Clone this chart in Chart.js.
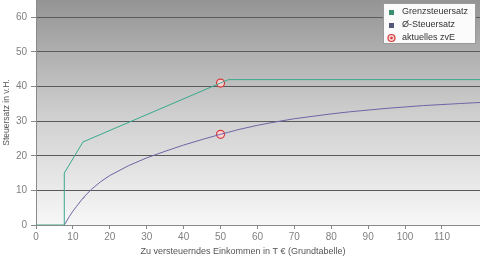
<!DOCTYPE html>
<html>
<head>
<meta charset="utf-8">
<script src="https://cdn.jsdelivr.net/npm/chart.js@4.4.1/dist/chart.umd.min.js"></script>
<style>
  html, body { margin: 0; padding: 0; background: #ffffff; }
  #wrap { width: 480px; height: 259px; }
</style>
</head>
<body>
<div id="wrap"><canvas id="taxChart" width="480" height="259"></canvas></div>
<script>
// Grenzsteuersatz (marginal rate), income in T€ -> rate in %
const marginalIncome = [0, 7.664, 7.664, 12.739, 52.151, 120.3];
const marginalRate = [0, 0, 15, 24, 42, 42];

// Durchschnittssteuersatz (average rate)
const averageIncome = [7.664, 8, 9, 10, 11, 12.74, 13, 15, 17.5, 20, 25, 30, 35, 40, 45, 50, 52.15, 55, 60, 65, 70, 75, 80, 85, 90, 95, 100, 105, 110, 115, 120.3];
const averageRate = [0, 0.6, 2.4, 4.0, 5.4, 7.8, 8.1, 10.3, 12.5, 14.3, 17.1, 19.4, 21.3, 23.1, 24.7, 26.2, 26.8, 27.6, 28.8, 29.8, 30.7, 31.4, 32.1, 32.7, 33.2, 33.7, 34.1, 34.5, 34.8, 35.1, 35.4];

// aktuelles zvE
const currentIncome = [50, 50];
const currentRate = [41, 26.2];

const xTicks = [0, 10, 20, 30, 40, 50, 60, 70, 80, 90, 100, 110];
const yTicks = [0, 10, 20, 30, 40, 50, 60];

const legendLabels = ["Grenzsteuersatz", "\u00D8-Steuersatz", "aktuelles zvE"];
const xTitle = "Zu versteuerndes Einkommen in T \u20AC (Grundtabelle)";
const yTitle = "Steuersatz in v.H.";

const GREEN = "#3aa88c";
const PURPLE = "#6c66a6";
const RED = "#d63a3a";

function toPoints(xs, ys) {
  return xs.map((x, i) => ({ x: x, y: ys[i] }));
}

// gradient behind the plot area
const backgroundPlugin = {
  id: "plotBackground",
  beforeDraw(chart) {
    const { ctx, chartArea } = chart;
    const g = ctx.createLinearGradient(0, chartArea.top, 0, chartArea.bottom);
    g.addColorStop(0, "#949494");
    g.addColorStop(0.5, "#cecece");
    g.addColorStop(1, "#f7f7f7");
    ctx.save();
    ctx.fillStyle = g;
    ctx.fillRect(chartArea.left, chartArea.top, chartArea.right - chartArea.left, chartArea.bottom - chartArea.top);
    ctx.restore();
  },
};

// x axis title sits a bit left of the plot centre in the original
const xTitlePlugin = {
  id: "xTitle",
  afterDraw(chart) {
    const ctx = chart.ctx;
    ctx.save();
    ctx.font = "9px 'Liberation Sans', Arial, sans-serif";
    ctx.fillStyle = "#555555";
    ctx.textAlign = "center";
    ctx.textBaseline = "middle";
    ctx.fillText(xTitle, 243, 252);
    ctx.restore();
  },
};

// boxed legend in the top right corner
const legendBoxPlugin = {
  id: "legendBox",
  afterDraw(chart) {
    const ctx = chart.ctx;
    ctx.save();
    ctx.fillStyle = "#fbfbfb";
    ctx.strokeStyle = "#9a9a9a";
    ctx.lineWidth = 1;
    ctx.fillRect(383.5, 3.5, 92, 40);
    ctx.strokeRect(383.5, 3.5, 92, 40);
    ctx.font = "9px 'Liberation Sans', Arial, sans-serif";
    ctx.textBaseline = "middle";
    ctx.fillStyle = "#333333";
    const rows = [12, 25, 38];
    legendLabels.forEach((label, i) => {
      ctx.fillText(label, 402, rows[i]);
    });
    ctx.fillStyle = "#3d8f70";
    ctx.fillRect(389, 10, 5, 5);
    ctx.fillStyle = "#55587a";
    ctx.fillRect(389, 23, 5, 5);
    ctx.beginPath();
    ctx.arc(391.5, 38, 3.5, 0, Math.PI * 2);
    ctx.fillStyle = "#f8d4d4";
    ctx.fill();
    ctx.strokeStyle = RED;
    ctx.lineWidth = 1.2;
    ctx.stroke();
    ctx.beginPath();
    ctx.arc(391.5, 38, 1.3, 0, Math.PI * 2);
    ctx.fillStyle = RED;
    ctx.fill();
    ctx.restore();
  },
};

const tickFont = { family: "'Liberation Sans', Arial, sans-serif", size: 10 };
const titleFont = { family: "'Liberation Sans', Arial, sans-serif", size: 8.5 };

new Chart(document.getElementById("taxChart"), {
  type: "line",
  data: {
    datasets: [
      {
        label: legendLabels[0],
        data: toPoints(marginalIncome, marginalRate),
        borderColor: GREEN,
        borderWidth: 1,
        pointRadius: 0,
        tension: 0,
        fill: false,
      },
      {
        label: legendLabels[1],
        data: toPoints(averageIncome, averageRate),
        borderColor: PURPLE,
        borderWidth: 1,
        pointRadius: 0,
        tension: 0,
        fill: false,
      },
      {
        label: legendLabels[2],
        data: toPoints(currentIncome, currentRate),
        showLine: false,
        pointStyle: "circle",
        pointRadius: 4,
        pointBorderWidth: 1.2,
        pointBorderColor: RED,
        pointBackgroundColor: "#f8d4d4",
      },
      {
        label: "dot",
        data: toPoints(currentIncome, currentRate),
        showLine: false,
        pointRadius: 1.5,
        pointBorderWidth: 0,
        pointBackgroundColor: RED,
      },
    ],
  },
  options: {
    responsive: false,
    animation: false,
    layout: { padding: 0, autoPadding: false },
    plugins: {
      legend: { display: false },
      tooltip: { enabled: false },
    },
    scales: {
      x: {
        type: "linear",
        min: 0,
        max: 120.3,
        afterBuildTicks: (scale) => {
          scale.ticks = xTicks.map((v) => ({ value: v }));
        },
        afterFit: (scale) => {
          scale.height = 34;
          scale.paddingLeft = 0;
          scale.paddingRight = 0;
        },
        ticks: { color: "#808080", font: tickFont, padding: 2, maxRotation: 0 },
        grid: { drawOnChartArea: false, tickLength: 4, color: "#888888" },
        border: { color: "#8a8a8a" },
      },
      y: {
        type: "linear",
        min: 0,
        max: 65,
        afterBuildTicks: (scale) => {
          scale.ticks = yTicks.map((v) => ({ value: v }));
        },
        afterFit: (scale) => {
          scale.width = 36;
          scale.paddingTop = 0;
          scale.paddingBottom = 0;
        },
        ticks: { color: "#808080", font: tickFont, padding: 4 },
        grid: { color: "#5a5a5a", tickLength: 5, tickColor: "#888888" },
        border: { color: "#8a8a8a" },
        title: {
          display: true,
          text: yTitle,
          color: "#555555",
          font: titleFont,
          padding: { top: 2, bottom: 2 },
        },
      },
    },
  },
  plugins: [backgroundPlugin, xTitlePlugin, legendBoxPlugin],
});
</script>
</body>
</html>
